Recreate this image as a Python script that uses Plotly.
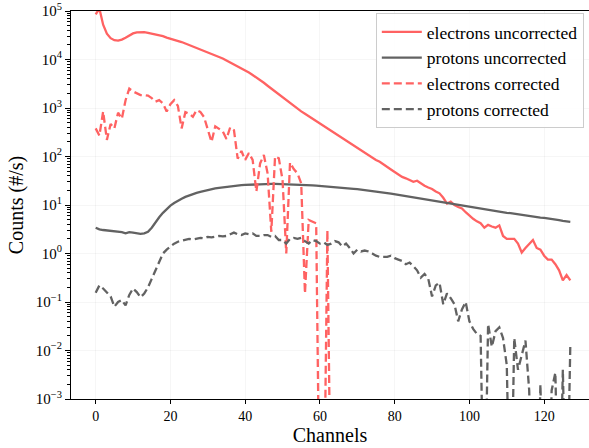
import plotly.graph_objects as go

channels = list(range(128))

electrons_uncorrected = [
    85000, 112000, 52000, 34000, 27500, 25000, 24500, 25700, 28000, 31500,
    34500, 36300, 37000, 36700, 35500, 34300, 33100, 31600, 30200, 28200,
    26900, 25700, 24500, 22900, 21400, 20000, 18600, 17400, 15800, 14800,
    13800, 12900, 12000, 11200, 10500, 9550, 8700, 7940, 7240, 6600,
    6030, 5370, 4790, 4270, 3720, 3310, 2880, 2510, 2190, 1900,
    1660, 1450, 1260, 1100, 955, 850, 760, 676, 603, 537,
    479, 427, 380, 339, 302, 269, 240, 214, 191, 170,
    151, 135, 120, 107, 95, 85, 78, 68, 60, 54,
    48, 42, 38, 35.5, 33, 30, 31.6, 27.5, 25, 23,
    21.4, 19, 17.4, 14.1, 10.7, 11.7, 10, 9.1, 8.5, 7.1,
    6.0, 5.2, 4.6, 4.2, 3.4, 3.9, 3.6, 3.4, 3.8, 2.3,
    2.0, 2.0, 2.0, 1.6, 1.05, 1.3, 1.6, 1.9, 1.3, 1.2,
    0.9, 0.75, 0.75, 0.6, 0.45, 0.28, 0.36, 0.28,
]

protons_uncorrected = [
    3.4, 3.15, 3.05, 3.0, 2.9, 2.85, 2.8, 2.75, 2.6, 2.75,
    2.7, 2.65, 2.55, 2.6, 2.8, 3.4, 4.4, 5.6, 6.9, 8.3,
    9.7, 11.0, 12.3, 13.5, 14.7, 15.8, 16.8, 17.8, 18.7, 19.6,
    20.4, 21.2, 21.9, 22.6, 23.2, 23.8, 24.3, 24.8, 25.2, 25.6,
    26.0, 26.3, 26.6, 26.8, 27.0, 27.1, 27.2, 27.2, 27.2, 27.1,
    27.0, 26.9, 26.8, 26.6, 26.4, 26.2, 26.0, 25.7, 25.4, 25.1,
    24.8, 24.5, 24.2, 23.9, 23.5, 23.2, 22.8, 22.4, 22.0, 21.6,
    21.2, 20.8, 20.4, 20.0, 19.6, 19.1, 18.6, 18.1, 17.6, 17.1,
    16.6, 16.1, 15.6, 15.2, 14.8, 14.4, 14.0, 13.6, 13.2, 12.8,
    12.4, 12.0, 11.6, 11.2, 10.8, 10.5, 10.2, 9.9, 9.6, 9.3,
    9.0, 8.7, 8.5, 8.2, 8.0, 7.8, 7.6, 7.4, 7.2, 7.0,
    6.9, 6.8, 6.6, 6.4, 6.3, 6.1, 6.0, 5.8, 5.7, 5.5,
    5.4, 5.3, 5.1, 5.0, 4.9, 4.7, 4.6, 4.5,
]

electrons_corrected = [
    380, 270, 850, 220, 470, 380, 800, 600, 1450, 2500,
    2200, 2000, 1850, 1850, 1800, 1600, 1350, 1450, 1250, 850,
    1200, 1450, 1100, 380, 820, 760, 660, 900, 830, 650,
    380, 200, 420, 380, 330, 230, 400, 350, 90, 130,
    85, 118, 85, 19, 72, 107, 45, 2.8, 100, 92,
    33, 1.0, 75, 55, 45, 28, 0.15, 4.9, 4.5, 4.2,
    0, 0, 3.0, 0,
] + [0] * 64

protons_corrected = [
    0.155, 0.22, 0.19, 0.16, 0.13, 0.08, 0.1, 0.11, 0.085, 0.14,
    0.19, 0.16, 0.125, 0.15, 0.2, 0.3, 0.45, 0.7, 1.0, 1.2,
    1.4, 1.6, 1.75, 1.85, 1.9, 2.0, 1.95, 2.0, 2.1, 2.05,
    2.2, 2.15, 2.2, 2.3, 2.25, 2.3, 2.5, 2.7, 2.5, 2.4,
    2.6, 2.5, 2.6, 2.3, 2.3, 2.4, 2.4, 2.2, 2.3, 1.9,
    1.9, 1.6, 2.0, 2.1, 2.0, 2.1, 1.8, 1.6, 1.9, 1.8,
    1.6, 1.7, 1.5, 1.6, 1.8, 1.7, 1.4, 1.6, 1.3, 1.0,
    1.2, 1.1, 1.15, 1.1, 1.0, 0.9, 0.85, 0.85, 0.85, 0.9,
    0.8, 0.75, 0.7, 0.6, 0.65, 0.55, 0.45, 0.32, 0.38, 0.3,
    0.13, 0.22, 0.25, 0.09, 0.15, 0.12, 0.09, 0.04, 0.07, 0.1,
    0.04, 0.028, 0.022, 0.02, 0, 0.035, 0.012, 0.025, 0.03, 0.018,
    0.005, 0, 0.018, 0.004, 0.008, 0.016, 0.0015, 0, 0, 0.002,
    0, 0, 0.0015, 0.0035, 0, 0.004, 0, 0.013,
]

y_tick_values = [1e-3, 1e-2, 1e-1, 1e0, 1e1, 1e2, 1e3, 1e4, 1e5]
y_tick_labels = ["10<sup>\u22123</sup>", "10<sup>\u22122</sup>", "10<sup>\u22121</sup>",
                 "10<sup>0</sup>", "10<sup>1</sup>", "10<sup>2</sup>",
                 "10<sup>3</sup>", "10<sup>4</sup>", "10<sup>5</sup>"]
x_tick_values = [0, 20, 40, 60, 80, 100, 120]

FLOOR = 1e-6  # non-positive counts drawn at the log-axis floor, like matplotlib clipping


def clip(vals):
    return [v if v > 0 else FLOOR for v in vals]


RED = "#ff6262"
GREY = "#626262"
FONT = "Liberation Serif, Times New Roman, Times, serif"

fig = go.Figure()
fig.add_trace(go.Scatter(x=channels, y=clip(electrons_uncorrected), mode="lines",
                         name="electrons uncorrected", line=dict(color=RED, width=2.3)))
fig.add_trace(go.Scatter(x=channels, y=clip(protons_uncorrected), mode="lines",
                         name="protons uncorrected", line=dict(color=GREY, width=2.3)))
fig.add_trace(go.Scatter(x=channels, y=clip(electrons_corrected), mode="lines",
                         name="electrons corrected",
                         line=dict(color=RED, width=2.3, dash="8px,4px")))
fig.add_trace(go.Scatter(x=channels, y=clip(protons_corrected), mode="lines",
                         name="protons corrected",
                         line=dict(color=GREY, width=2.3, dash="8px,4px")))

fig.update_layout(
    width=589, height=448,
    margin=dict(l=71, r=0, t=11, b=49),
    paper_bgcolor="white", plot_bgcolor="white",
    font=dict(family=FONT, color="black"),
    showlegend=True,
    legend=dict(
        x=0.99, xanchor="right", y=0.995, yanchor="top",
        bgcolor="rgba(255,255,255,0.85)", bordercolor="#cccccc", borderwidth=1,
        font=dict(family=FONT, size=17.5, color="black"),
        itemwidth=40,
    ),
    xaxis=dict(
        range=[-6.6, 132.0],
        tickvals=x_tick_values,
        ticks="outside", ticklen=4, tickwidth=1, tickcolor="black",
        showline=True, linecolor="black", linewidth=1.2, mirror=True,
        showgrid=True, gridcolor="rgba(0,0,0,0.035)", gridwidth=1,
        zeroline=False,
        tickfont=dict(family=FONT, size=14),
        title=dict(text="Channels", font=dict(family=FONT, size=20), standoff=4),
    ),
    yaxis=dict(
        type="log", range=[-3, 5],
        tickvals=y_tick_values, ticktext=y_tick_labels,
        ticks="outside", ticklen=5, tickwidth=1, tickcolor="black",
        showline=True, linecolor="black", linewidth=1.2, mirror=False,
        showgrid=True, gridcolor="rgba(0,0,0,0.035)", gridwidth=1,
        zeroline=False,
        minor=dict(ticks="outside", ticklen=2.5, tickcolor="black", dtick="D1", showgrid=False),
        tickfont=dict(family=FONT, size=15),
        title=dict(text="Counts (#/s)", font=dict(family=FONT, size=20), standoff=6),
    ),
)

fig.write_html("out.html")
